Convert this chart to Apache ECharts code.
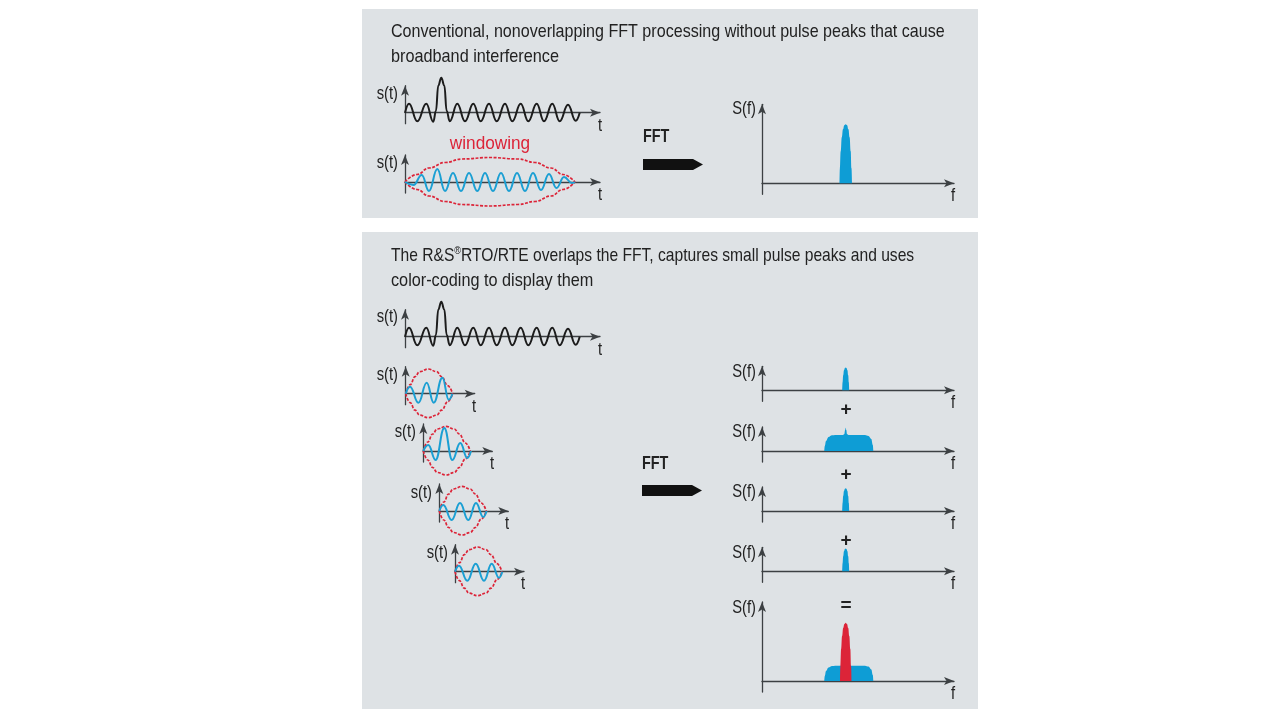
<!DOCTYPE html>
<html>
<head>
<meta charset="utf-8">
<title>FFT overlap</title>
<script src="https://cdn.jsdelivr.net/npm/echarts@6/dist/echarts.min.js"></script>
<style>
html, body { margin: 0; padding: 0; background: #fff; }
#main { width: 1280px; height: 720px; filter: blur(0.4px); }
</style>
</head>
<body>
<div id="main"></div>
<script>
// signal shapes: [t, s(t)]
var pulseSignal = [[0,0],[4,9],[12.3,-8.5],[21.3,9],[28.3,-9],[31,2],[33.2,27],[36.3,35],[39.4,27],[41.6,2],[44.7,-8.5],[52.3,9],[60,-8.5],[68.3,9],[75.7,-8.5],[84,9],[91.7,-8.5],[100,9],[107.3,-8.5],[115.7,9],[123.3,-8.5],[131.7,9],[139,-8.5],[147.3,9],[154.7,-8.5],[163,8],[170.7,-8],[174.7,0]];
var longWindowed = [[0,0],[8.5,-3],[16.7,7],[24,-9],[32.3,13],[40,-9],[48,9],[56,-9],[64,9],[72.3,-9],[80,9],[88,-9],[96,9],[104,-9],[112,9],[120,-9],[128,9],[136,-8],[144,8],[151.5,-6],[159,5],[167,-1],[170,0]];
var longEnvelopeTop = [[0,0],[12,7.5],[24,14],[40,19.5],[57,23],[85,24.5],[113,23],[130,19.5],[146,14],[158,7.5],[170,0]];
var longEnvelopeBottom = [[0,0],[12,-7.5],[24,-14],[40,-19.5],[57,-22.5],[85,-24],[113,-22.5],[130,-19.5],[146,-14],[158,-7.5],[170,0]];
var shortWindow1 = [[0,0],[4.3,7],[12.7,-9],[21,11],[28,-9],[36.7,16],[43,-6],[46.7,0]];
var shortWindow2 = [[0,0],[5,6],[12.3,-9],[21,23],[29,-9],[37,8],[44,-7],[47.7,0]];
var shortWindow3 = [[0,0],[4,6],[12.3,-9],[20.7,8],[29,-9],[36.7,8],[44,-6],[47.3,0]];
var shortWindow4 = [[0,0],[4,6],[12.3,-9],[20.7,8],[29,-9],[36.7,8],[44,-6],[47.3,0]];
var shortEnvelopeTop = [[0,0],[4.5,9],[9.3,17],[14,22],[22.7,24.7],[31,22],[36,17],[42,8],[47,0]];
var shortEnvelopeBottom = [[0,0],[4.5,-9],[9.3,-16.5],[14,-21.5],[22.7,-24],[31,-21.5],[36,-16.5],[42,-8],[47,0]];

// spectra: [f, S(f)]
var tallPeak = [[77.5,0],[77.9,15],[78.7,32],[79.8,46],[81,54],[82.3,58],[83.7,59],[85.1,58],[86.4,54],[87.6,46],[88.7,32],[89.5,15],[90,0]];
var narrowPeak = [[80.2,0],[80.6,8],[81.2,15],[82,20],[83,22.2],[83.7,22.7],[84.4,22.2],[85.4,20],[86.2,15],[86.8,8],[87.2,0]];
var broadPulse = [[62.3,0],[62.8,5],[64,10],[66.5,14],[70,15.7],[74,16],[81,16],[82.4,17],[83.1,21],[83.7,23.3],[84.3,21],[85,17],[86.4,16],[103,16],[106.5,15],[109.3,12],[110.8,6],[111.3,0]];
var broadBase = [[62.3,0],[62.8,5],[64,10],[66.5,13.5],[70,15],[74,15.3],[103,15.3],[106.5,14.5],[109.3,11.5],[110.8,6],[111.3,0]];
var redPeak = [[78,0],[78.4,15],[79.1,32],[80.1,45],[81.2,53],[82.4,57],[83.7,58.3],[85,57],[86.2,53],[87.3,45],[88.3,32],[89.1,15],[89.5,0]];

var headline1 = ['Conventional, nonoverlapping FFT processing without pulse peaks that cause', 'broadband interference'];
var headline2 = ['The R&S{sup|®}RTO/RTE overlaps the FFT, captures small pulse peaks and uses', 'color-coding to display them'];

var BLACK = '#1c1c1c', BLUE = '#1b9fd3', RED = '#dc2438', FILL = '#0e9dd5', PANEL = '#dee2e5', AXIS = '#3c4043';
var FONT = '"Liberation Sans", sans-serif';

var grids = [], xAxes = [], yAxes = [], series = [], texts = [];

function plot(left, originY, width, up, down, lines) {
	var idx = grids.length;
	grids.push({left: left, top: originY - up, width: width, height: up + down});
	xAxes.push({
		gridIndex: idx, type: 'value', min: 0, max: width,
		axisLine: {onZero: true, symbol: ['none', 'arrow'], symbolSize: [6, 10], lineStyle: {color: AXIS, width: 1.3}},
		axisTick: {show: false}, axisLabel: {show: false}, splitLine: {show: false}
	});
	yAxes.push({
		gridIndex: idx, type: 'value', min: -down, max: up,
		axisLine: {onZero: true, symbol: ['none', 'arrow'], symbolSize: [6, 10], lineStyle: {color: AXIS, width: 1.3}},
		axisTick: {show: false}, axisLabel: {show: false}, splitLine: {show: false}
	});
	lines.forEach(function(l) {
		var s = {
			type: 'line', xAxisIndex: idx, yAxisIndex: idx, data: l.data,
			showSymbol: false, silent: true, animation: false, clip: false, z: l.z || 3,
			smooth: l.smooth === undefined ? 0.45 : l.smooth, smoothMonotone: 'x',
			lineStyle: {color: l.color, width: l.width || 2, type: l.dash ? [3, 1.5] : 'solid'}
		};
		if (l.fill) {
			s.areaStyle = {color: l.fill, opacity: 1};
			s.lineStyle.width = 0;
		}
		series.push(s);
	});
}

function label(str, x, y, opt) {
	opt = opt || {};
	var size = opt.size || 18;
	texts.push({
		type: 'text', x: x, y: y, z: 20, scaleX: opt.scaleX || 0.82, silent: true,
		style: {
			text: str, fill: opt.color || '#222', font: (opt.bold ? 'bold ' : '') + size + 'px ' + FONT,
			align: opt.align || 'left', verticalAlign: 'middle',
			rich: {sup: {fontSize: 11, fontFamily: FONT, fill: '#222', verticalAlign: 'top', lineHeight: 20}}
		}
	});
}

function timePlot(left, originY, width, labelX, labelY, tX, tY, lines) {
	plot(left, originY, width, 27, 11, lines);
	label('s(t)', labelX, labelY, {align: 'right'});
	label('t', tX, tY, {align: 'center'});
}

function freqPlot(originY, up, labelY, fY, lines) {
	plot(762, originY, 192, up, 11, lines);
	label('S(f)', 756, labelY, {align: 'right'});
	label('f', 953, fY, {align: 'center'});
}

function arrow(x, y) {
	return {
		type: 'polygon', silent: true, z: 10,
		shape: {points: [[x, y], [x + 50, y], [x + 60, y + 5.5], [x + 50, y + 11], [x, y + 11]]},
		style: {fill: '#111'}
	};
}

// first panel
timePlot(405, 112.7, 195, 398, 94, 600, 126, [{data: pulseSignal, color: BLACK}]);
timePlot(405, 182, 195, 398, 163, 600, 195, [
	{data: longEnvelopeTop, color: RED, dash: true, width: 1.7, smooth: 0.45},
	{data: longEnvelopeBottom, color: RED, dash: true, width: 1.7, smooth: 0.45},
	{data: longWindowed, color: BLUE, z: 4}
]);
freqPlot(183.3, 79, 109, 196, [{data: tallPeak, fill: FILL, color: FILL, smooth: 0.5}]);

// second panel
timePlot(405, 336.7, 195, 398, 317, 600, 350, [{data: pulseSignal, color: BLACK}]);
var shortWindows = [
	{left: 405.7, y: 393.7, data: shortWindow1, lx: 398, ly: 375, tx: 474, ty: 407},
	{left: 423.3, y: 451, data: shortWindow2, lx: 416, ly: 432, tx: 492, ty: 464},
	{left: 439.3, y: 511, data: shortWindow3, lx: 432, ly: 493, tx: 507, ty: 524},
	{left: 455, y: 571.7, data: shortWindow4, lx: 448, ly: 553, tx: 523, ty: 584}
];
shortWindows.forEach(function(w) {
	timePlot(w.left, w.y, 69, w.lx, w.ly, w.tx, w.ty, [
		{data: shortEnvelopeTop, color: RED, dash: true, width: 1.7, smooth: 0.45},
		{data: shortEnvelopeBottom, color: RED, dash: true, width: 1.7, smooth: 0.45},
		{data: w.data, color: BLUE, z: 4}
	]);
});
freqPlot(390.3, 24, 372, 403, [{data: narrowPeak, fill: FILL, color: FILL, smooth: 0.5}]);
freqPlot(451, 24, 432, 464, [{data: broadPulse, fill: FILL, color: FILL, smooth: 0.4}]);
freqPlot(511, 24, 492, 524, [{data: narrowPeak, fill: FILL, color: FILL, smooth: 0.5}]);
freqPlot(571.3, 24, 553, 584, [{data: narrowPeak, fill: FILL, color: FILL, smooth: 0.5}]);
freqPlot(681, 79, 608, 694, [
	{data: broadBase, fill: FILL, color: FILL, smooth: 0.4},
	{data: redPeak, fill: RED, color: RED, smooth: 0.5, z: 4}
]);

// texts
label(headline1[0], 391, 32, {size: 19, scaleX: 0.847});
label(headline1[1], 391, 56.5, {size: 19, scaleX: 0.855});
label(headline2[0], 391, 255.5, {size: 19, scaleX: 0.822});
label(headline2[1], 391, 280.5, {size: 19, scaleX: 0.855});
label('windowing', 490, 144, {color: RED, size: 18, align: 'center', scaleX: 0.955});
label('FFT', 643, 137, {bold: true, size: 18, scaleX: 0.8});
label('FFT', 642, 464, {bold: true, size: 18, scaleX: 0.8});
label('+', 846, 410, {bold: true, size: 19, align: 'center', scaleX: 1});
label('+', 846, 475, {bold: true, size: 19, align: 'center', scaleX: 1});
label('+', 846, 541, {bold: true, size: 19, align: 'center', scaleX: 1});
label('=', 846, 606, {bold: true, size: 19, align: 'center', scaleX: 1});

var backdrop = [
	{type: 'rect', z: -10, silent: true, shape: {x: 362, y: 9, width: 616, height: 209}, style: {fill: PANEL}},
	{type: 'rect', z: -10, silent: true, shape: {x: 362, y: 232, width: 616, height: 477}, style: {fill: PANEL}},
	arrow(643, 159),
	arrow(642, 485)
];

var chart = echarts.init(document.getElementById('main'));
chart.setOption({
	animation: false,
	backgroundColor: '#fff',
	grid: grids,
	xAxis: xAxes,
	yAxis: yAxes,
	series: series,
	graphic: backdrop.concat(texts)
});
</script>
</body>
</html>
